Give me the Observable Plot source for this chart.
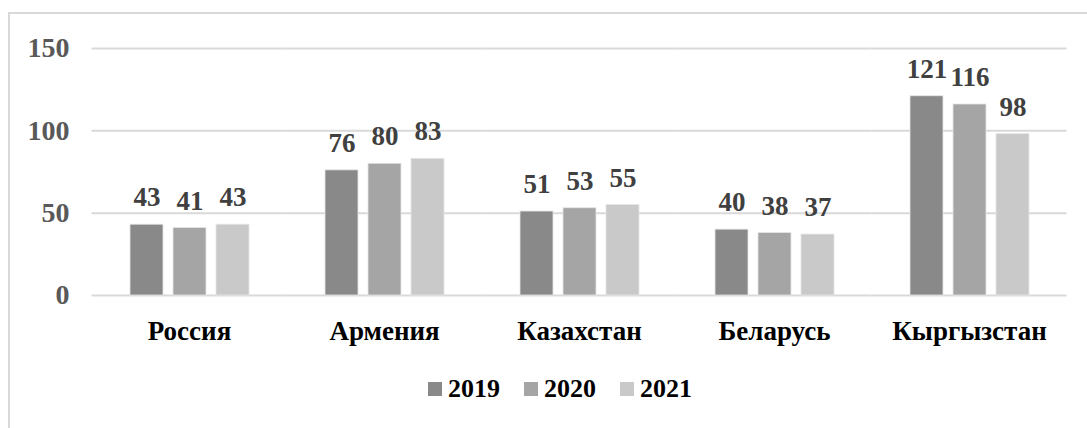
<!DOCTYPE html>
<html>
<head>
<meta charset="utf-8">
<script src="https://cdn.jsdelivr.net/npm/d3@7"></script>
<script src="https://cdn.jsdelivr.net/npm/@observablehq/plot@0.6"></script>
<style>
  body { margin: 0; background: #fff; }
  #wrap { position: relative; width: 1087px; height: 428px; overflow: hidden; font-family: "Liberation Serif", "Times New Roman", serif; }
  #frame { position: absolute; left: 8px; top: 12px; right: 0; bottom: 0; border-left: 2px solid #d9d9d9; border-top: 2px solid #d9d9d9; }
  #chart { position: absolute; left: 0; top: 0; }
  #legend { position: absolute; left: 428px; top: 374px; display: flex; align-items: center; font-weight: bold; font-size: 26px; color: #000; }
  .item { display: flex; align-items: center; margin-right: 24px; }
  .sw { width: 14px; height: 14px; margin-right: 6px; }
  #chart text { font-family: "Liberation Serif", "Times New Roman", serif; }
</style>
</head>
<body>
<div id="wrap">
  <div id="frame"></div>
  <div id="chart"></div>
  <div id="legend"></div>
</div>
<script>
const countries = ["Россия", "Армения", "Казахстан", "Беларусь", "Кыргызстан"];
const years = ["2019", "2020", "2021"];
const v2019 = [43, 76, 51, 40, 121];
const v2020 = [41, 80, 53, 38, 116];
const v2021 = [43, 83, 55, 37, 98];
const yTicks = [0, 50, 100, 150];
const colors = ["#898989", "#a5a5a5", "#c9c9c9"];

const series = [v2019, v2020, v2021];
const data = countries.flatMap((c, i) => years.map((y, j) => ({country: c, year: y, value: series[j][i]})));

const chart = Plot.plot({
  width: 1087,
  height: 360,
  marginLeft: 92,
  marginRight: 20,
  marginTop: 48,
  marginBottom: 65,
  style: {fontWeight: "bold", background: "transparent", overflow: "visible"},
  fx: {domain: countries, paddingInner: 0.3846, paddingOuter: 0.1923, label: null},
  x: {domain: years, paddingInner: 0.233, paddingOuter: 0, axis: null},
  y: {domain: [0, 150], label: null},
  color: {domain: years, range: colors},
  marks: [
    Plot.ruleY(yTicks, {stroke: "#d9d9d9", strokeWidth: 2, insetLeft: -37.5, insetRight: -37.5}),
    Plot.barY(data, {fx: "country", x: "year", y: "value", fill: "year", stroke: "#e6e6e6", strokeWidth: 0.8}),
    Plot.text(data, {fx: "country", x: "year", y: "value", text: d => String(d.value), dy: -27, fontSize: 27, fill: "#404040"}),
    Plot.axisY(yTicks, {tickSize: 0, tickPadding: 60, fontSize: 28, fill: "#595959", label: null}),
    Plot.axisFx({anchor: "bottom", tickSize: 0, tickPadding: 25, fontSize: 27, fill: "#000", label: null})
  ]
});
document.getElementById("chart").appendChild(chart);

const legend = document.getElementById("legend");
years.forEach((y, j) => {
  const item = document.createElement("div");
  item.className = "item";
  const sw = document.createElement("span");
  sw.className = "sw";
  sw.style.background = colors[j];
  const t = document.createElement("span");
  t.textContent = y;
  item.appendChild(sw);
  item.appendChild(t);
  legend.appendChild(item);
});
</script>
</body>
</html>
